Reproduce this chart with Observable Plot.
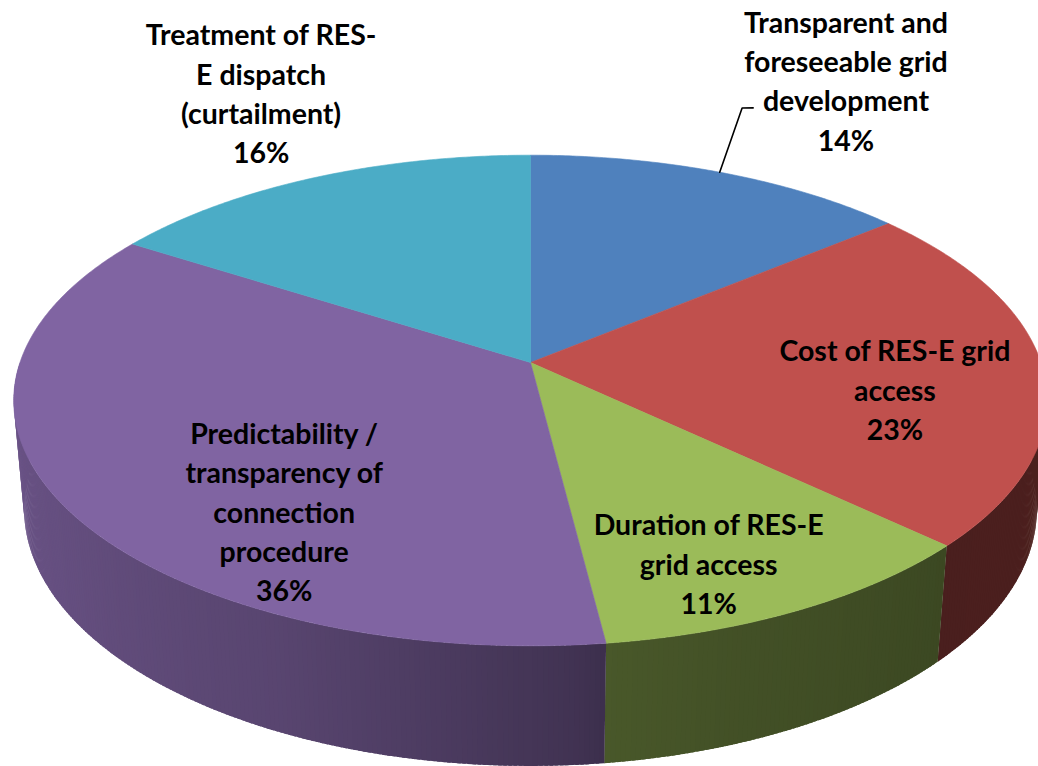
<!DOCTYPE html>
<html>
<head>
<meta charset="utf-8">
<script src="https://cdn.jsdelivr.net/npm/d3@7"></script>
<script src="https://cdn.jsdelivr.net/npm/@observablehq/plot@0.6"></script>
<style>
  html, body { margin: 0; padding: 0; background: #ffffff; overflow: hidden; }
  #chart { width: 1038px; height: 766px; }
</style>
</head>
<body>
<div id="chart"></div>
<script>
// ---- data ----
const categories = [
  "Transparent and foreseeable grid development",
  "Cost of RES-E grid access",
  "Duration of RES-E grid access",
  "Predictability / transparency of connection procedure",
  "Treatment of RES-E dispatch (curtailment)"
];
const shares = [14, 23, 11, 36, 16];
const labelLines = [
  ["Transparent and", "foreseeable grid", "development"],
  ["Cost of RES-E grid", "access"],
  ["Duration of RES-E", "grid access"],
  ["Predictability /", "transparency of", "connection", "procedure"],
  ["Treatment of RES-", "E dispatch", "(curtailment)"]
];
const sliceColors = ["#4f81bd", "#c0504d", "#9bbb59", "#8064a2", "#4bacc6"];

// ---- layout (3D view of the pie disk) ----
const view = {cx: 530, cy: 362, f: 2910, D: 5.70, sinP: 0.469, cosP: 0.883, H: 0.243};
// label anchor in the disk plane: [radius fraction, angle in degrees]
const labelPlane = [[1.6355, 27.56], [0.710, 98.5], [0.8006, 157.3], [0.7146, 218.05], [1.512, 334.97]];
const leaderPlane = [[1.0, 25.0], [1.3661, 21.3], [1.376, 22.3]];
// side shading factor by angle around the disk
const shadeByAngle = d3.scaleLinear()
  .domain([90, 125, 133, 160, 172.8, 176, 190, 205, 235, 265, 270])
  .range([0.40, 0.39, 0.385, 0.43, 0.47, 0.51, 0.60, 0.69, 0.78, 0.84, 0.85])
  .clamp(true);

function project(r, deg, h = 0) {
  const t = deg * Math.PI / 180;
  const x = r * Math.sin(t), z = r * Math.cos(t), y = h;
  const v = z * view.sinP + y * view.cosP;
  const w = view.D + z * view.cosP - y * view.sinP;
  return [view.cx + view.f * x / w, view.cy - view.f * v / w];
}
function shade(c, k) {
  const q = d3.rgb(c);
  return d3.rgb(q.r * k, q.g * k, q.b * k).formatHex();
}

const tops = [];
const stripList = [];
let acc = 0;
shares.forEach((s, i) => {
  const a0 = acc * 3.6, a1 = (acc + s) * 3.6;
  acc += s;
  const n = Math.max(2, Math.ceil((a1 - a0) / 0.5));
  const pts = [project(0, 0)];
  for (let k = 0; k <= n; k++) pts.push(project(1, a0 + (a1 - a0) * k / n));
  pts.push(project(0, 0));
  pts.forEach(([x, y]) => tops.push({id: "top" + i, x, y, color: sliceColors[i]}));
  const step = 0.5;
  for (let a = a0; a < a1 - 1e-9; a += step) {
    const b = Math.min(a + step, a1);
    const m = (a + b) / 2;
    if (Math.cos(m * Math.PI / 180) >= 0) continue;
    const color = shade(sliceColors[i], shadeByAngle(m));
    const bb = Math.min(b + 0.35, a1);
    const aa = a;
    const quad = [project(1, aa), project(1, bb), project(1, bb, -view.H), project(1, aa, -view.H)];
    stripList.push({depth: Math.cos(m * Math.PI / 180), id: "side" + i + "_" + a.toFixed(2), color, quad});
  }
});
stripList.sort((p, q) => q.depth - p.depth);
const sides = [];
stripList.forEach(s => s.quad.forEach(([x, y]) => sides.push({id: s.id, x, y, color: s.color})));

const labels = categories.map((c, i) => {
  const [x, y] = project(labelPlane[i][0], labelPlane[i][1]);
  return {x, y, text: labelLines[i].join("\n") + "\n" + shares[i] + "%"};
});
const leader = leaderPlane.map(([r, a]) => {
  const [x, y] = project(r, a);
  return {x, y};
});

const chart = Plot.plot({
  width: 1038,
  height: 766,
  margin: 0,
  x: {domain: [0, 1038], range: [0, 1038], axis: null},
  y: {domain: [0, 766], range: [0, 766], axis: null},
  style: {background: "#ffffff"},
  marks: [
    Plot.line(sides, {x: "x", y: "y", z: "id", fill: "color", stroke: "none", curve: "linear"}),
    Plot.line(tops, {x: "x", y: "y", z: "id", fill: "color", stroke: "color", strokeWidth: 0.6, curve: "linear"}),
    Plot.line(leader, {x: "x", y: "y", stroke: "#000000", strokeWidth: 1.6}),
    Plot.text(labels, {x: "x", y: "y", text: "text", fontSize: 28.5, fontWeight: "bold",
      fontFamily: "Lato, 'Open Sans', sans-serif", lineHeight: 1.38, fill: "#000000", textAnchor: "middle"})
  ]
});
document.getElementById("chart").appendChild(chart);
</script>
</body>
</html>
